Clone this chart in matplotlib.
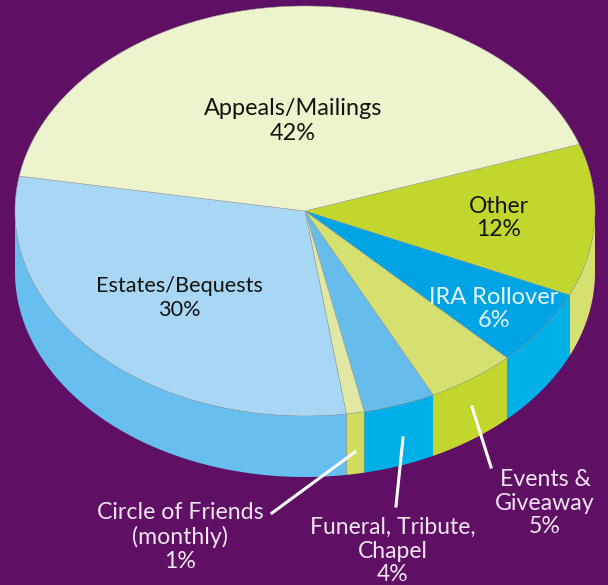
"""Elliptical 3D-style pie of revenue sources on a purple background."""
import numpy as np
import matplotlib
matplotlib.use("Agg")
import matplotlib.pyplot as plt

# clockwise from the start angle
SOURCES = ["Other", "IRA Rollover", "Events & Giveaway", "Funeral, Tribute, Chapel",
           "Circle of Friends (monthly)", "Estates/Bequests", "Appeals/Mailings"]
SHARES = [12, 6, 5, 4, 1, 30, 42]
TOP_COLORS = ["#C2D62E", "#00A4E4", "#D5E070", "#66BDEC", "#E0E8A4", "#A8D6F5", "#EDF3CC"]
WALL_COLORS = ["#D5E070", "#00B0E6", "#C2D62E", "#00B0E6", "#CEDD5E", "#66BFEE", "#EDF3CC"]

BG = "#5F1065"
EDGE = "#9AA596"
CX, CY, RX, RY, DEPTH = 305, 211, 290, 205, 61
START = 19

plt.rcParams["font.family"] = ["Lato", "DejaVu Sans"]


def rim(a0, a1, n=120):
    t = np.radians(np.linspace(a0, a1, n))
    return CX + RX * np.cos(t), CY - RY * np.sin(t)


def main():
    fig = plt.figure(figsize=(6.08, 5.85), dpi=100)
    fig.patch.set_facecolor(BG)
    ax = fig.add_axes([0, 0, 1, 1])
    ax.set_xlim(0, 608)
    ax.set_ylim(585, 0)
    ax.axis("off")

    ends = START - np.cumsum(SHARES) * 3.6
    starts = np.r_[START, ends[:-1]]

    # side walls, only the front half of the rim shows
    for a0, a1, col in zip(starts, ends, WALL_COLORS):
        a0v, a1v = min(a0, 0), max(a1, -180)
        if a0v <= a1v:
            continue
        x, y = rim(a0v, a1v)
        ax.fill(np.r_[x, x[::-1]], np.r_[y, y[::-1] + DEPTH], color=col, lw=0, zorder=1)

    # top face
    for a0, a1, col in zip(starts, ends, TOP_COLORS):
        x, y = rim(a0, a1)
        ax.fill(np.r_[CX, x], np.r_[CY, y], facecolor=col, edgecolor=EDGE, lw=0.35,
                joinstyle="round", zorder=2)

    # inside labels
    dark = "#14140F"
    ax.text(293, 121, "Appeals/Mailings\n42%", color=dark, fontsize=16.9, ha="center",
            va="center", linespacing=1.18, zorder=4)
    ax.text(179, 298, "Estates/Bequests\n30%", color=dark, fontsize=15.6, ha="center",
            va="center", linespacing=1.2, zorder=4)
    ax.text(499, 218, "Other\n12%", color=dark, fontsize=16.5, ha="center",
            va="center", linespacing=1.15, zorder=4)
    ax.text(494, 309, "IRA Rollover\n6%", color="#E8F6FC", fontsize=17, ha="center",
            va="center", linespacing=1.1, zorder=4)

    # outside labels
    light = "#F1E6F1"
    ax.text(545, 503, "Events &\nGiveaway\n5%", color=light, fontsize=16.7, ha="center",
            va="center", linespacing=1.17, zorder=4)
    ax.text(393, 551, "Funeral, Tribute,\nChapel\n4%", color=light, fontsize=16.5, ha="center",
            va="center", linespacing=1.16, zorder=4)
    ax.text(180, 537, "Circle of Friends\n(monthly)\n1%", color=light, fontsize=16.7, ha="center",
            va="center", linespacing=1.15, zorder=4)

    # leader lines
    ax.plot([472, 491], [407, 467], color="white", lw=2.2, zorder=3)
    ax.plot([403, 396], [438, 506], color="white", lw=2.2, zorder=3)
    ax.plot([355, 272], [452, 513], color="white", lw=2.2, zorder=3)

    fig.savefig("out.png", facecolor=BG)


if __name__ == "__main__":
    main()
